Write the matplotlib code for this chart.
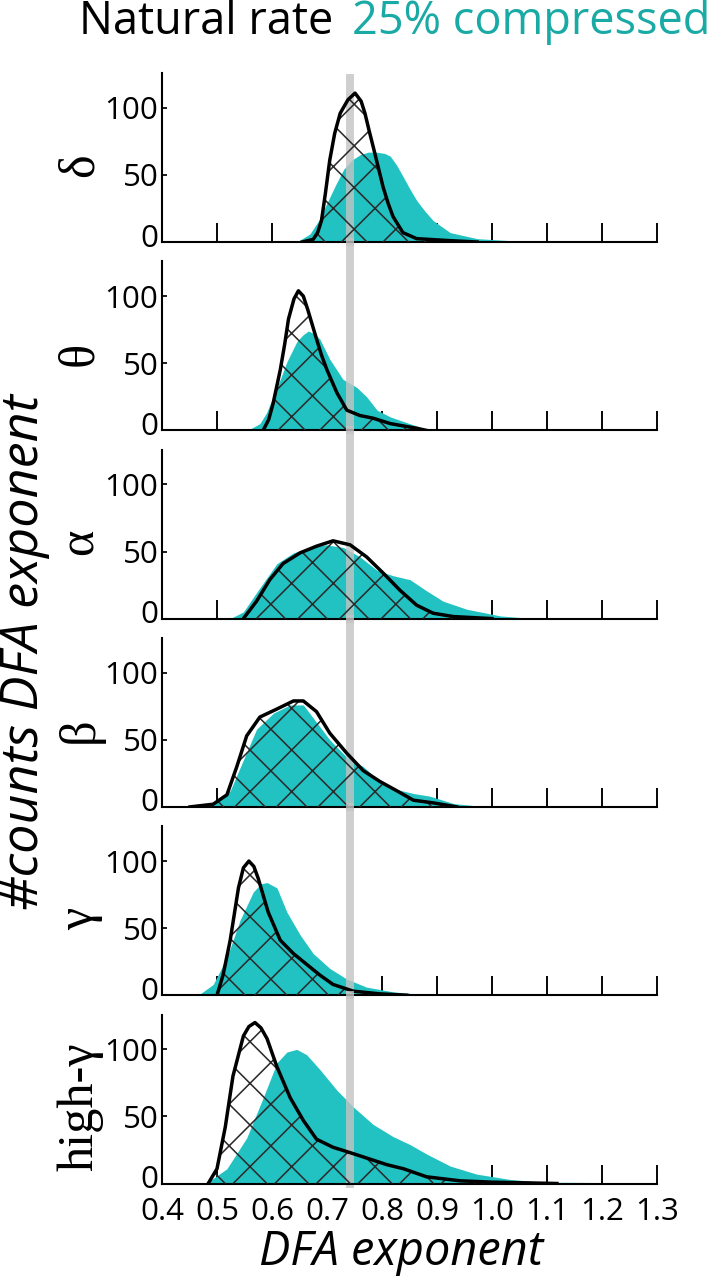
import matplotlib.pyplot as plt
from matplotlib.transforms import ScaledTranslation

plt.rcParams['font.family'] = ['Open Sans', 'DejaVu Sans']
plt.rcParams['hatch.linewidth'] = 0.9
plt.rcParams['hatch.color'] = '#2a2a2a'

teal = '#22c2c2'
teal_text = '#1aaaa6'

bands = ['δ', 'θ', 'α', 'β', 'γ', 'high-γ']

# natural rate (black outline, hatched) and 25% compressed (teal fill)
delta_nat_x = [0.655, 0.675, 0.683, 0.690, 0.697, 0.705, 0.714, 0.724, 0.738, 0.751, 0.762, 0.769, 0.776, 0.784, 0.793, 0.802, 0.811, 0.820, 0.838, 0.863, 0.924, 0.973]
delta_nat_y = [0, 2, 7, 16, 36, 61, 81, 96, 106, 111, 105, 96, 84, 71, 56, 41, 29, 19, 7, 2.5, 1, 0]
delta_cmp_x = [0.645, 0.669, 0.685, 0.700, 0.715, 0.730, 0.745, 0.760, 0.775, 0.790, 0.805, 0.815, 0.827, 0.838, 0.850, 0.863, 0.878, 0.893, 0.924, 0.973, 1.033, 1.064]
delta_cmp_y = [0, 6, 16, 29, 42, 54, 61, 65, 67, 67, 66, 64, 57, 49, 40, 31, 23, 16, 7, 2.5, 1, 0]

theta_nat_x = [0.584, 0.594, 0.602, 0.615, 0.623, 0.630, 0.640, 0.648, 0.657, 0.665, 0.673, 0.681, 0.690, 0.700, 0.718, 0.736, 0.760, 0.784, 0.815, 0.863, 0.880]
theta_nat_y = [0, 8, 20, 45, 64, 83, 98, 104, 100, 90, 79, 68, 56, 45, 28, 15, 11, 9, 5, 1.5, 0]
theta_cmp_x = [0.556, 0.578, 0.590, 0.602, 0.615, 0.627, 0.645, 0.656, 0.666, 0.677, 0.687, 0.705, 0.729, 0.754, 0.772, 0.791, 0.815, 0.850, 0.887]
theta_cmp_y = [0, 5, 13, 25, 38, 51, 66, 71, 74, 72, 68, 53, 38, 32, 25, 15, 10, 5, 0]

alpha_nat_x = [0.548, 0.572, 0.596, 0.620, 0.651, 0.681, 0.711, 0.742, 0.772, 0.802, 0.833, 0.863, 0.893, 0.930, 1.000]
alpha_nat_y = [0, 13, 29, 41, 49, 54, 58, 55, 46, 34, 21, 10, 4, 1.5, 0]
alpha_cmp_x = [0.524, 0.548, 0.578, 0.609, 0.639, 0.669, 0.698, 0.730, 0.760, 0.791, 0.820, 0.851, 0.880, 0.911, 0.954, 1.015, 1.075]
alpha_cmp_y = [0, 5, 23, 41, 49, 53, 55, 53, 46, 36, 32, 29, 21, 13, 7, 2, 0]

beta_nat_x = [0.451, 0.493, 0.518, 0.536, 0.554, 0.578, 0.609, 0.639, 0.657, 0.681, 0.705, 0.736, 0.766, 0.796, 0.827, 0.857, 0.893, 0.936]
beta_nat_y = [0, 2, 9, 30, 53, 67, 73, 79, 79, 71, 55, 40, 27, 19, 12, 5, 3, 0]
beta_cmp_x = [0.451, 0.493, 0.524, 0.548, 0.572, 0.603, 0.633, 0.657, 0.681, 0.705, 0.736, 0.766, 0.796, 0.827, 0.857, 0.887, 0.930, 0.990]
beta_cmp_y = [0, 2.5, 12, 35, 58, 70, 76, 76, 63, 50, 37, 30, 19, 13, 10, 8, 2.5, 0]

gamma_nat_x = [0.500, 0.511, 0.524, 0.539, 0.548, 0.558, 0.567, 0.575, 0.593, 0.615, 0.639, 0.663, 0.687, 0.711, 0.748, 0.796, 0.845]
gamma_nat_y = [0, 15, 41, 80, 95, 100, 96, 87, 62, 41, 31, 23, 15, 8, 3, 1, 0]
gamma_cmp_x = [0.466, 0.493, 0.518, 0.542, 0.566, 0.580, 0.591, 0.609, 0.627, 0.651, 0.675, 0.705, 0.736, 0.772, 0.820, 0.887]
gamma_cmp_y = [0, 8, 28, 56, 77, 83, 84, 80, 62, 45, 31, 20, 12, 6, 2.5, 0]

hgamma_nat_x = [0.484, 0.500, 0.515, 0.529, 0.548, 0.558, 0.569, 0.580, 0.591, 0.609, 0.633, 0.657, 0.681, 0.711, 0.742, 0.772, 0.809, 0.839, 0.881, 0.942, 1.000, 1.118]
hgamma_nat_y = [0, 11, 42, 80, 110, 117, 120, 116, 108, 87, 64, 47, 33, 27, 23, 19, 14, 11, 5, 2, 1, 0]
hgamma_cmp_x = [0.480, 0.518, 0.554, 0.584, 0.609, 0.627, 0.645, 0.663, 0.687, 0.717, 0.748, 0.784, 0.820, 0.851, 0.881, 0.924, 0.972, 1.033, 1.093, 1.200, 1.290]
hgamma_cmp_y = [0, 11, 34, 64, 90, 98, 100, 96, 85, 70, 57, 44, 35, 29, 22, 13, 7, 3, 1, 0.7, 0.6]

natural = [(delta_nat_x, delta_nat_y), (theta_nat_x, theta_nat_y), (alpha_nat_x, alpha_nat_y),
           (beta_nat_x, beta_nat_y), (gamma_nat_x, gamma_nat_y), (hgamma_nat_x, hgamma_nat_y)]
compressed = [(delta_cmp_x, delta_cmp_y), (theta_cmp_x, theta_cmp_y), (alpha_cmp_x, alpha_cmp_y),
              (beta_cmp_x, beta_cmp_y), (gamma_cmp_x, gamma_cmp_y), (hgamma_cmp_x, hgamma_cmp_y)]

xticks = [0.4, 0.5, 0.6, 0.7, 0.8, 0.9, 1.0, 1.1, 1.2, 1.3]
xticklabels = ['0.4', '0.5', '0.6', '0.7', '0.8', '0.9', '1.0', '1.1', '1.2', '1.3']
yticks = [0, 50, 100]
yticklabels = ['0', '50', '100']
ref_exponent = 0.742

W, H = 713, 1280
fig = plt.figure(figsize=(W / 125, H / 125), dpi=125)

left_px, right_px = 162, 657
ax_h = 169
gap = 188.3 - ax_h

for i, band in enumerate(bands):
    base = 242 + i * 188.3
    ax = fig.add_axes([left_px / W, 1 - base / H, (right_px - left_px) / W, ax_h / H])
    ax.set_xlim(0.4, 1.3)
    ax.set_ylim(0, 126)
    ax.set_axisbelow(True)

    cx, cy = compressed[i]
    nx, ny = natural[i]
    ax.fill_between(cx, cy, color=teal, lw=0, zorder=1)
    top = 0.97 if i == 0 else 1 + gap / ax_h
    ax.axvline(ref_exponent, ymin=0, ymax=top, color='#c4c4c4', lw=4.6, alpha=0.8,
               zorder=2, clip_on=False)
    ax.fill_between(nx, ny, facecolor='none', edgecolor='#2a2a2a', hatch='x', lw=0, zorder=3)
    ax.plot(nx, ny, color='black', lw=2.0, zorder=4, solid_joinstyle='round')

    for s in ['top', 'right']:
        ax.spines[s].set_visible(False)
    for s in ['left', 'bottom']:
        ax.spines[s].set_linewidth(1.2)

    ax.set_xticks(xticks)
    ax.set_yticks(yticks)
    ax.set_yticklabels(yticklabels)
    ax.tick_params(axis='x', direction='in', length=11, width=1.1, labelsize=18, pad=8)
    ax.tick_params(axis='y', direction='in', length=3, width=1.0, labelsize=18, pad=2)
    if i == len(bands) - 1:
        ax.set_xticklabels(xticklabels)
    else:
        ax.set_xticklabels([])

    # the "0" label sits a little above the baseline in the original
    zero_lbl = ax.get_yticklabels()[0]
    zero_lbl.set_transform(zero_lbl.get_transform() + ScaledTranslation(0, 4 / 72, fig.dpi_scale_trans))

    ax.text(-0.165, 57, band, transform=ax.get_yaxis_transform(), rotation=90,
            ha='center', va='center', fontsize=29, family=['Liberation Serif', 'DejaVu Serif'])

fig.text(333 / W, 1 - 22 / H, 'Natural rate', ha='right', va='center', fontsize=26)
fig.text(352 / W, 1 - 22 / H, '25% compressed', ha='left', va='center', fontsize=26, color=teal_text)
fig.text(401 / W, 1 - 1252 / H, 'DFA exponent', ha='center', va='center', fontsize=27, style='italic')
fig.text(25 / W, 1 - 652 / H, '#counts DFA exponent', ha='center', va='center', rotation=90,
         fontsize=30, style='italic')

fig.savefig('out.png', dpi=125)
